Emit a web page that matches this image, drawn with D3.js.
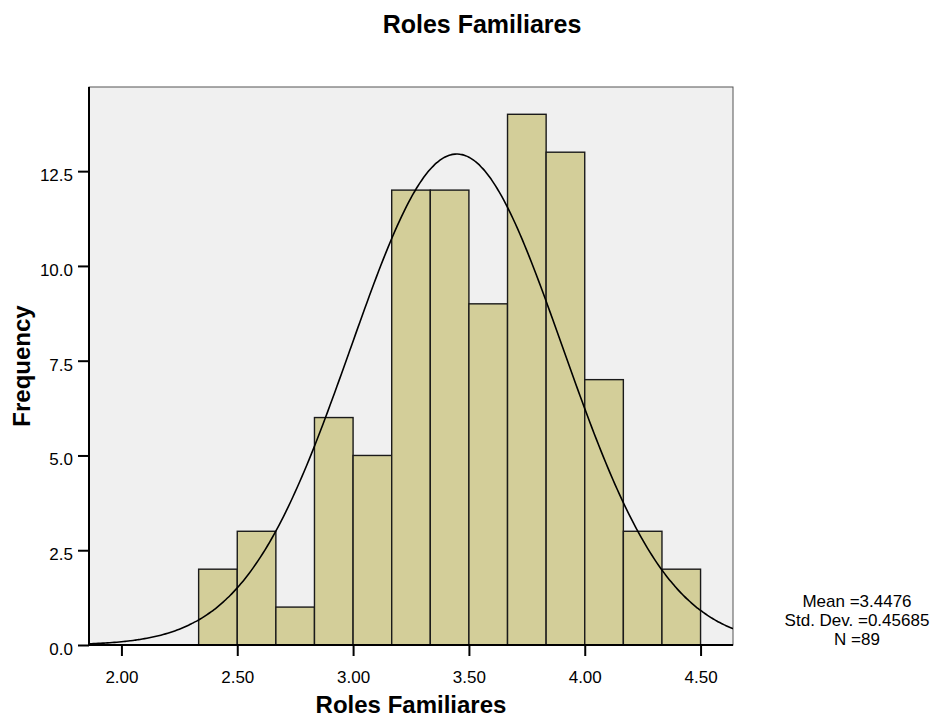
<!DOCTYPE html>
<html>
<head>
<meta charset="utf-8">
<script src="https://cdn.jsdelivr.net/npm/d3@7"></script>
<style>
  body { margin: 0; background: #fff; }
  text { font-family: "Liberation Sans", Arial, sans-serif; }
</style>
</head>
<body>
<script>
// histogram bins (lower edge) and counts
var binStarts = [2.3333, 2.5, 2.6667, 2.8333, 3.0, 3.1667, 3.3333, 3.5, 3.6667, 3.8333, 4.0, 4.1667, 4.3333];
var binWidth = 1 / 6;
var counts = [2, 3, 1, 6, 5, 12, 12, 9, 14, 13, 7, 3, 2];
var xTicks = [2.0, 2.5, 3.0, 3.5, 4.0, 4.5];
var yTicks = [0, 2.5, 5.0, 7.5, 10.0, 12.5];
var statLabels = ["Mean =3.4476", "Std. Dev. =0.45685", "N =89"];
var mean = 3.4476, sd = 0.45685, n = 89;

var svgWidth = 946, svgHeight = 721;
var margin = { top: 87, right: 213, bottom: 76, left: 89 };
var width = svgWidth - margin.left - margin.right;
var height = svgHeight - margin.top - margin.bottom;

var svg = d3.select("body").append("svg")
  .attr("width", svgWidth)
  .attr("height", svgHeight);

var chart = svg.append("g")
  .attr("transform", `translate(${margin.left}, ${margin.top})`);

var x = d3.scaleLinear().domain([1.86, 4.64]).range([0, width]);
var y = d3.scaleLinear().domain([0, 14.72]).range([height, 0]);

// plot background
chart.append("rect")
  .attr("width", width).attr("height", height)
  .attr("fill", "#f0f0f0")
  .attr("stroke", "#555").attr("stroke-width", 1);

// bars
chart.selectAll(".bar")
  .data(counts)
  .enter().append("rect")
  .attr("class", "bar")
  .attr("x", (d, i) => x(binStarts[i]))
  .attr("width", (d, i) => x(binStarts[i] + binWidth) - x(binStarts[i]))
  .attr("y", d => y(d))
  .attr("height", d => height - y(d))
  .attr("fill", "#d3ce99")
  .attr("stroke", "#1a1a1a")
  .attr("stroke-width", 1.4);

// normal curve from the mean / sd shown
chart.append("clipPath").attr("id", "clip")
  .append("rect").attr("width", width).attr("height", height);
var pts = d3.range(1.86, 4.645, 0.01).map(function (v) {
  var z = (v - mean) / sd;
  return [v, n * binWidth * Math.exp(-0.5 * z * z) / (sd * Math.sqrt(2 * Math.PI))];
});
chart.append("path")
  .datum(pts)
  .attr("clip-path", "url(#clip)")
  .attr("fill", "none")
  .attr("stroke", "#000")
  .attr("stroke-width", 1.6)
  .attr("d", d3.line().x(d => x(d[0])).y(d => y(d[1])).curve(d3.curveBasis));

// axes
var yAxis = chart.append("g")
  .call(d3.axisLeft(y).tickValues(yTicks).tickFormat(d3.format(".1f")).tickSize(11).tickPadding(5));
var xAxis = chart.append("g")
  .attr("transform", `translate(0, ${height})`)
  .call(d3.axisBottom(x).tickValues(xTicks).tickFormat(d3.format(".2f")).tickSize(11).tickPadding(15));

[yAxis, xAxis].forEach(function (ax) {
  ax.select(".domain").attr("stroke", "#000").attr("stroke-width", 2);
  ax.selectAll(".tick line").attr("stroke", "#000").attr("stroke-width", 2);
  ax.selectAll(".tick text").attr("fill", "#000")
    .style("font-size", "17px").style("font-family", "Liberation Sans, Arial, sans-serif");
});
yAxis.selectAll(".tick text").attr("dy", "0.55em");
yAxis.select(".domain").attr("d", `M0,0V${height}`);
xAxis.select(".domain").attr("d", `M0,0H${width}`);

// titles
svg.append("text")
  .attr("x", 482).attr("y", 33)
  .attr("text-anchor", "middle")
  .style("font-size", "25px").style("font-weight", "bold")
  .text("Roles Familiares");

svg.append("text")
  .attr("x", margin.left + width / 2).attr("y", 713)
  .attr("text-anchor", "middle")
  .style("font-size", "24px").style("font-weight", "bold")
  .text("Roles Familiares");

svg.append("text")
  .attr("transform", `translate(30, ${margin.top + height / 2}) rotate(-90)`)
  .attr("text-anchor", "middle")
  .style("font-size", "24px").style("font-weight", "bold")
  .text("Frequency");

// stats box
svg.selectAll(".stat")
  .data(statLabels)
  .enter().append("text")
  .attr("class", "stat")
  .attr("x", 857)
  .attr("y", (d, i) => 607 + i * 19)
  .attr("text-anchor", "middle")
  .style("font-size", "17px")
  .text(d => d);
</script>
</body>
</html>
